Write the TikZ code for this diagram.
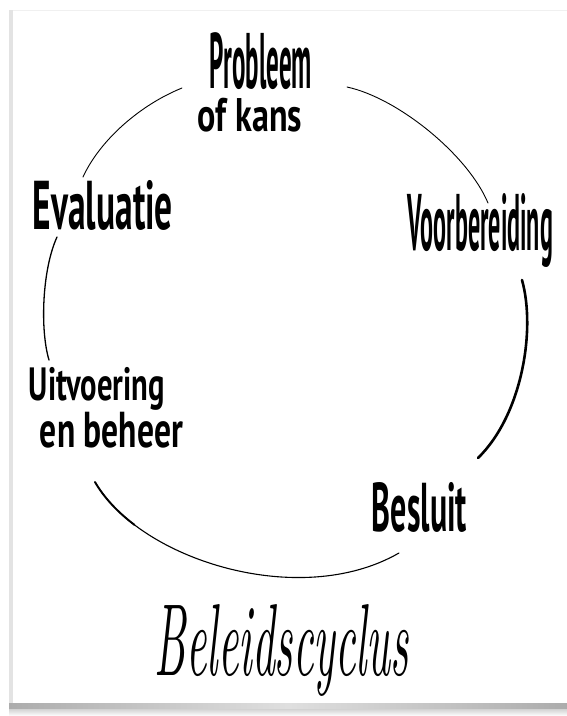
\documentclass[tikz,border=0pt]{standalone}
\usepackage{fontspec}
\usepackage{graphicx}
\newfontfamily\handfont{PT Sans}
\tikzset{
  lbl/.style={inner sep=0pt, outer sep=0pt},
  thinarc/.style={line width=0.9pt, line cap=round},
  midarc/.style={line width=1.3pt, line cap=round},
  thickarc/.style={line width=2.6pt, line cap=round},
}
\newcommand{\hw}[3]{\resizebox*{#1pt}{#2pt}{\handfont\bfseries #3}}
\begin{document}
\begin{tikzpicture}[x=1pt,y=-1pt]
\useasboundingbox (0,0) rectangle (567,716);
\fill[white] (0,0) rectangle (567,716);
% card edges and shadow
\fill[gray!22] (9,10) rectangle (13,705);
\draw[gray!12, line width=1pt] (13,10.5) -- (567,10.5);
\shade[left color=gray!65, right color=gray!65, middle color=gray!25] (9,703) rectangle (567,709);
\shade[top color=gray!35, bottom color=white] (9,709) rectangle (567,716);

% labels
\node[lbl, align=center] (prob) at (250,82.3)
  {\hspace*{22pt}\hw{102}{57}{Probleem}\\[7.5pt]\hw{104}{34}{of kans}};
\node[lbl] (voor)  at (480.5,230) {\hw{145}{74}{Voorbereiding}};
\node[lbl] (eval)  at (103,205)   {\hw{140}{50}{Evaluatie}};
\node[lbl] (uitv)  at (97,388.5)  {\hw{136}{43}{Uitvoering}};
\node[lbl] (beh)   at (111.5,430) {\hw{143}{36}{en beheer}};
\node[lbl] (bes)   at (419.5,507) {\hw{95}{50}{Besluit}};
\node[lbl] (title) at (282,650)   {\resizebox*{254pt}{92pt}{\itshape Beleidscyclus}};

% arc end points
\coordinate (a1s) at (182,88);
\coordinate (a1e) at (83,177);
\coordinate (a2s) at (347,87);
\coordinate (a2e) at (488,203);
\coordinate (a3s) at (522,280);
\coordinate (a3e) at (478,458);
\coordinate (a4s) at (399,553);
\coordinate (a4e) at (95,482);
\coordinate (a5s) at (49,360);
\coordinate (a5e) at (57,237);

% cycle arcs
\draw[thinarc] (a1s) .. controls (140,105) and (100,140) .. (a1e);
\draw[thinarc] (a2s) .. controls (398,98) and (468,155) .. (a2e);
\draw[thickarc] (a3s) .. controls (536,330) and (522,415) .. (a3e);
\draw[midarc, line width=1.1pt] (a4s) .. controls (300,610) and (140,560) .. (a4e);
\draw[line width=1.9pt, line cap=round] (a4e) .. controls (104,497.6) and (117.6,512.1) .. (134.4,524.8);
\draw[midarc] (a5s) .. controls (40,330) and (42,270) .. (a5e);
\end{tikzpicture}
\end{document}
